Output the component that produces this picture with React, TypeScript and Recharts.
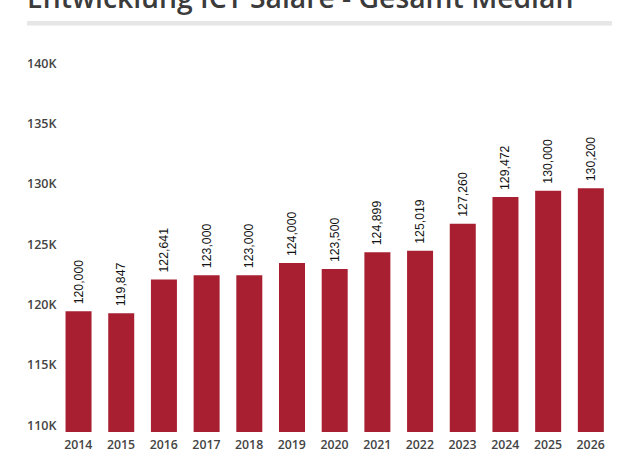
import React from "react";
import { ComposedChart, Bar, XAxis, YAxis, LabelList } from "recharts";

const years = ["2014","2015","2016","2017","2018","2019","2020","2021","2022","2023","2024","2025","2026"];
const salaries = [120000,119847,122641,123000,123000,124000,123500,124899,125019,127260,129472,130000,130200];
const yTicks = [110000,115000,120000,125000,130000,135000,140000];
const yTickLabels = ["110K","115K","120K","125K","130K","135K","140K"];
const title = "Entwicklung ICT Saläre - Gesamt Median";

const data = years.map((y, i) => ({ year: y, value: salaries[i] }));

const fmt = (v: number) => v.toLocaleString("en-US");

const YTick = (props: any) => {
  const { y, payload } = props;
  const idx = yTicks.indexOf(payload.value);
  return (
    <text x={27} y={y - 7} dominantBaseline="central" textAnchor="start"
      fontFamily="'Open Sans', sans-serif" fontWeight={600} fontSize={12.5} fill="#444">
      {idx >= 0 ? yTickLabels[idx] : payload.value}
    </text>
  );
};

const XTick = (props: any) => {
  const { x, y, payload } = props;
  return (
    <text x={x} y={y + 4} dominantBaseline="central" textAnchor="middle"
      fontFamily="'Open Sans', sans-serif" fontWeight={600} fontSize={12.3} fill="#444">
      {payload.value}
    </text>
  );
};

const ValLabel = (props: any) => {
  const { x, y, width, value } = props;
  const cx = x + width / 2;
  const ty = y - 7;
  return (
    <text x={cx} y={ty} transform={`rotate(-90 ${cx} ${ty})`} textAnchor="start"
      dominantBaseline="central" fontFamily="'Liberation Sans', Arial, sans-serif"
      fontSize={12.3} fill="#111">
      {fmt(value)}
    </text>
  );
};

export default function App() {
  return (
    <div style={{ position: "absolute", left: 0, top: 0, width: 640, height: 455, background: "#fff", overflow: "hidden" }}>
      <svg width={640} height={455} style={{ position: "absolute", left: 0, top: 0 }}>
        <text x={27} y={7.5} fontFamily="'Open Sans', sans-serif" fontWeight={600} fontSize={28.3} fill="#3b3b3b">
          {title}
        </text>
        <rect x={27} y={21} width={585} height={4.5} fill="#e6e6e6" />
      </svg>
      <div style={{ position: "absolute", left: 0, top: 0 }}>
        <ComposedChart width={640} height={455} data={data}
          margin={{ top: 70, right: 28, left: 0, bottom: 0 }} barCategoryGap="20%">
          <XAxis dataKey="year" axisLine={false} tickLine={false} height={23} tick={<XTick />} interval={0} />
          <YAxis domain={[110000, 140000]} ticks={yTicks} axisLine={false} tickLine={false}
            width={57} tick={<YTick />} allowDataOverflow />
          <Bar dataKey="value" fill="#a81f31" isAnimationActive={false}>
            <LabelList dataKey="value" content={<ValLabel />} />
          </Bar>
        </ComposedChart>
      </div>
    </div>
  );
}
